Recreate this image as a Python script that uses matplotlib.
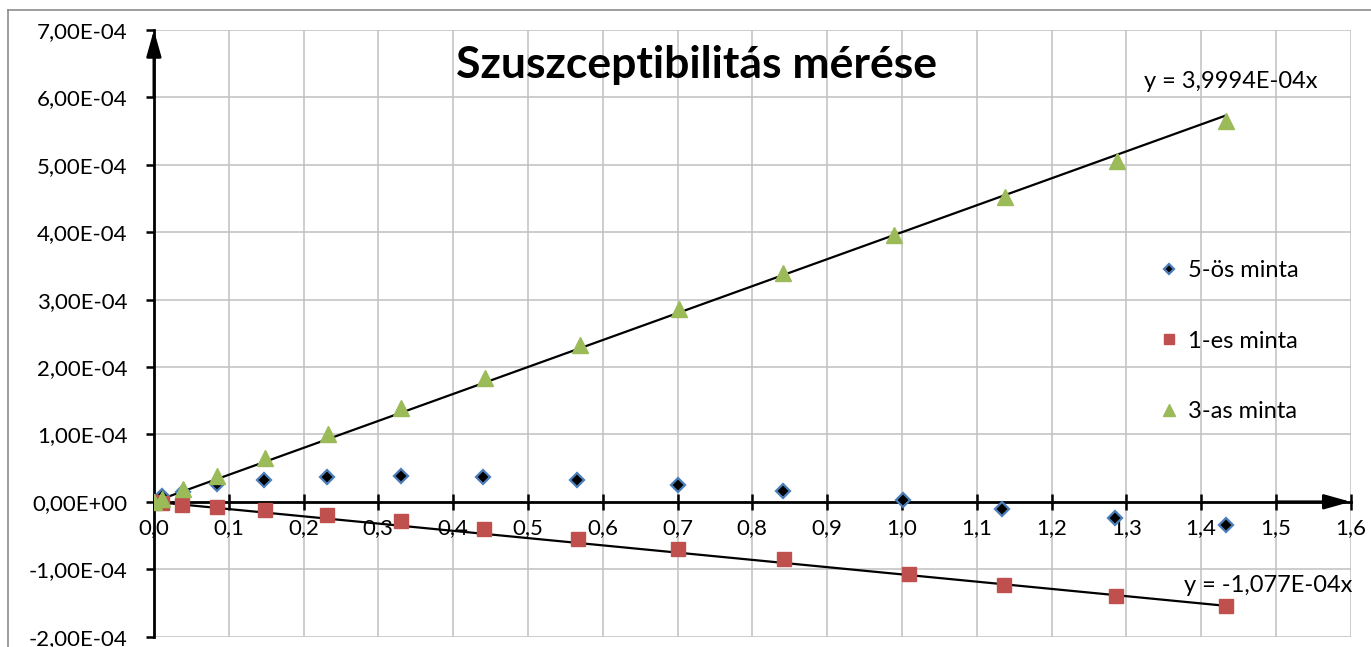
import matplotlib.pyplot as plt
import numpy as np
from matplotlib.lines import Line2D

plt.rcParams['font.family'] = ['Lato', 'DejaVu Sans']

# 5-ös minta (blue diamonds)
x5 = [0.0, 0.0104, 0.039, 0.084, 0.147, 0.231, 0.330, 0.440, 0.566, 0.700, 0.841, 1.002, 1.134, 1.285, 1.433]
y5 = [0.0, 0.09, 0.14, 0.26, 0.32, 0.37, 0.39, 0.375, 0.32, 0.25, 0.16, 0.03, -0.10, -0.24, -0.35]

# 1-es minta (red squares)
x1 = [0.0, 0.0104, 0.038, 0.085, 0.148, 0.232, 0.330, 0.441, 0.567, 0.700, 0.843, 1.009, 1.136, 1.286, 1.433]
y1 = [0.0, -0.02, -0.05, -0.07, -0.12, -0.20, -0.28, -0.405, -0.55, -0.70, -0.85, -1.07, -1.235, -1.40, -1.54]

# 3-as minta (green triangles)
x3 = [0.0, 0.0104, 0.039, 0.084, 0.148, 0.233, 0.330, 0.443, 0.569, 0.702, 0.841, 0.990, 1.138, 1.287, 1.433]
y3 = [0.0, 0.04, 0.187, 0.384, 0.655, 1.00, 1.39, 1.83, 2.33, 2.86, 3.40, 3.96, 4.52, 5.06, 5.65]

labels = ['5-ös minta', '1-es minta', '3-as minta']
slope3 = 3.9994e-4
slope1 = -1.077e-4

x_ticks = np.round(np.arange(0, 1.61, 0.1), 1)
y_ticks = np.arange(-2, 8) * 1e-4

scale = 1e-4
y5 = np.array(y5) * scale
y1 = np.array(y1) * scale
y3 = np.array(y3) * scale

fig = plt.figure(figsize=(13.71, 6.47), dpi=100)
ax = fig.add_axes([153.9 / 1371, 1 - 636.6 / 647, (1350.7 - 153.9) / 1371, (636.6 - 30) / 647])

# outer chart border
fig.add_artist(Line2D([8 / 1371, 8 / 1371], [0, 1 - 10 / 647], color='#8c8c8c', lw=1.2))
fig.add_artist(Line2D([8 / 1371, 1], [1 - 10 / 647, 1 - 10 / 647], color='#8c8c8c', lw=1.2))

ax.set_xlim(0, 1.6)
ax.set_ylim(-2e-4, 7e-4)
ax.set_xticks(x_ticks)
ax.set_yticks(y_ticks)
ax.grid(True, color='#c0c0c0', lw=1.1)
ax.set_axisbelow(True)

for s in ['top', 'right']:
    ax.spines[s].set_visible(False)
ax.spines['bottom'].set_position(('data', 0))
for s in ['bottom', 'left']:
    ax.spines[s].set_linewidth(2)
    ax.spines[s].set_zorder(4)

ax.tick_params(axis='x', direction='inout', length=11, width=1.8, pad=6, labelsize=16)
ax.tick_params(axis='y', direction='out', length=6, width=1.8, pad=13, labelsize=16)
ax.xaxis.set_major_formatter(plt.FuncFormatter(lambda v, p: f"{v:.1f}".replace('.', ',')))
ax.yaxis.set_major_formatter(plt.FuncFormatter(lambda v, p: f"{v:.2E}".replace('.', ',')))

# arrowheads on axes
ax.annotate('', xy=(1.6, 0), xytext=(1.5, 0),
            arrowprops=dict(arrowstyle='-|>,head_length=1.6,head_width=0.45', color='black', lw=2,
                            shrinkA=0, shrinkB=0), zorder=5)
ax.annotate('', xy=(0, 7e-4), xytext=(0, 6e-4),
            arrowprops=dict(arrowstyle='-|>,head_length=1.6,head_width=0.45', color='black', lw=2,
                            shrinkA=0, shrinkB=0), zorder=5, annotation_clip=False)

# trend lines
xt3 = np.array([0, max(x3)])
xt1 = np.array([0, max(x1)])
ax.plot(xt3, slope3 * xt3, color='black', lw=1.6, zorder=3)
ax.plot(xt1, slope1 * xt1, color='black', lw=1.6, zorder=3)

ax.plot(x5, y5, 'D', ms=7, mfc='black', mec='#4a7ebb', mew=1.6, ls='none', label=labels[0], zorder=6)
ax.plot(x1, y1, 's', ms=10, mfc='#c0504d', mec='#c0504d', ls='none', label=labels[1], zorder=6)
ax.plot(x3, y3, '^', ms=11, mfc='#9bbb59', mec='#9bbb59', ls='none', label=labels[2], zorder=6)

fig.text(696 / 1371, 1 - 65 / 647, 'Szuszceptibilitás mérése', ha='center', va='center',
         fontsize=32, fontweight='bold')
fig.text(1231 / 1371, 1 - 81 / 647, f"y = {slope3:.4E}x".replace('.', ','), ha='center', va='center', fontsize=17)
fig.text(1268 / 1371, 1 - 586 / 647, f"y = {slope1:.3E}x".replace('.', ','), ha='center', va='center', fontsize=17)

leg = ax.legend(loc='center left', bbox_to_anchor=(1148 / 1371, 1 - 341 / 647),
                bbox_transform=fig.transFigure, frameon=False, fontsize=17,
                handlelength=0.8, handletextpad=0.4, labelspacing=2.1, borderpad=0,
                markerscale=0.75)

fig.savefig('out.png', dpi=100)
